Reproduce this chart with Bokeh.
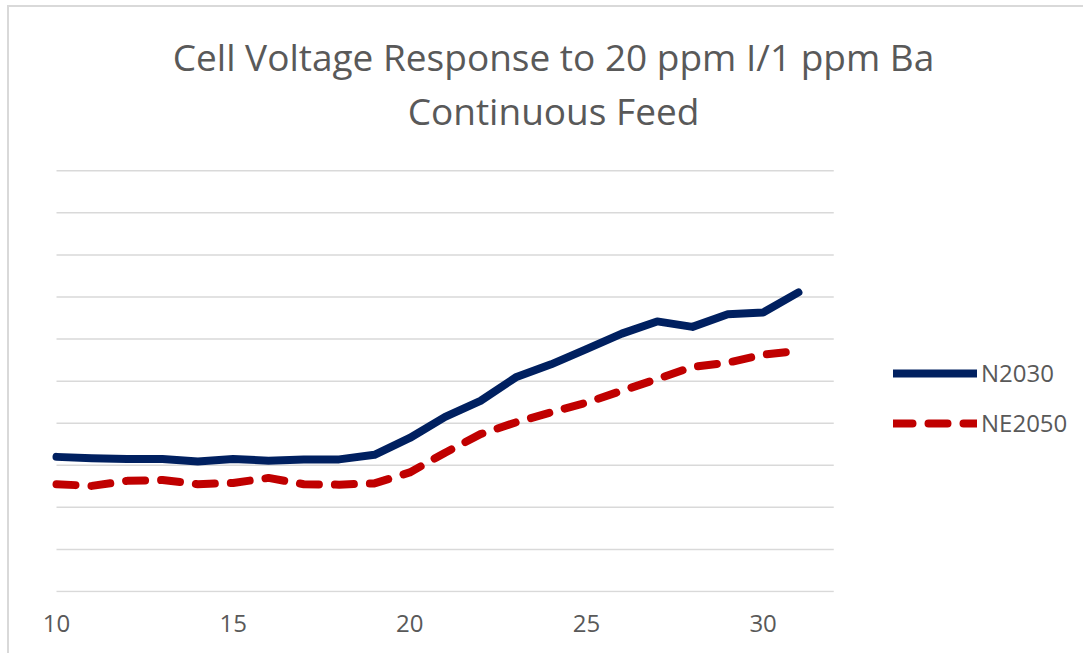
from bokeh.plotting import figure
from bokeh.models import FixedTicker, Legend, LegendItem, Label, Range1d
from bokeh.embed import file_html
from bokeh.resources import INLINE

# ---- data (y in gridline units) ----
hours = [10, 11, 12, 13, 14, 15, 16, 17, 18, 19, 20,
         21, 22, 23, 24, 25, 26, 27, 28, 29, 30, 31]
n2030 = [3.20, 3.17, 3.15, 3.15, 3.09, 3.15, 3.11, 3.14, 3.14, 3.25, 3.65,
         4.15, 4.53, 5.09, 5.40, 5.76, 6.13, 6.42, 6.29, 6.59, 6.63, 7.11]
ne2050 = [2.55, 2.51, 2.63, 2.65, 2.55, 2.58, 2.70, 2.55, 2.54, 2.57, 2.83,
          3.30, 3.74, 4.02, 4.26, 4.49, 4.77, 5.05, 5.34, 5.44, 5.63, 5.72]
x_ticks = [10, 15, 20, 25, 30]
grid_levels = [0, 1, 2, 3, 4, 5, 6, 7, 8, 9, 10]
plot_area_x = [10, 32]          # extent of the plot area on the x scale
title_lines = ["Cell Voltage Response to 20 ppm I/1 ppm Ba", "Continuous Feed"]
series_names = ["N2030", "NE2050"]

FONT = "Open Sans"
GREY = "#595959"
BLUE = "#002060"
RED = "#C00000"

W, H = 1076, 648
PX_X = 35.33     # pixels per x unit
PX_Y = 42.07     # pixels per gridline
X0_PX = 47       # canvas x of x=10
Y0_PX = 584      # canvas y of y=0
BOTTOM = 63

frame_h = H - BOTTOM
x_start = plot_area_x[0] - X0_PX / PX_X
x_end = plot_area_x[0] + (W - X0_PX) / PX_X
y_start = -(frame_h - Y0_PX) / PX_Y
y_end = y_start + frame_h / PX_Y

p = figure(width=W, height=H, output_backend="svg", toolbar_location=None,
           x_range=Range1d(x_start, x_end), y_range=Range1d(y_start, y_end),
           y_axis_location=None, title=None,
           min_border_left=0, min_border_right=0, min_border_top=0,
           min_border_bottom=BOTTOM)
p.styles = {"border-left": "2px solid #d9d9d9", "border-top": "2px solid #d9d9d9",
            "margin-left": "7px", "margin-top": "5px"}
p.outline_line_color = None
p.background_fill_color = "white"
p.border_fill_color = "white"
p.xgrid.visible = False
p.ygrid.visible = False

# horizontal gridlines limited to the plot area
p.segment(x0=[plot_area_x[0]] * len(grid_levels), x1=[plot_area_x[1]] * len(grid_levels),
          y0=grid_levels, y1=grid_levels, line_color="#d9d9d9", line_width=1.5)

xa = p.xaxis[0]
xa.ticker = FixedTicker(ticks=x_ticks)
xa.axis_line_color = None
xa.major_tick_line_color = None
xa.minor_tick_line_color = None
xa.major_label_text_font = FONT
xa.major_label_text_font_size = "24px"
xa.major_label_text_color = GREY
xa.major_label_standoff = 16

r1 = p.line(hours, n2030, line_color=BLUE, line_width=8,
            line_join="round", line_cap="round")
r2 = p.line(hours, ne2050, line_color=RED, line_width=8,
            line_join="round", line_cap="round", line_dash="19 16")

legend = Legend(items=[LegendItem(label=series_names[0], renderers=[r1]),
                       LegendItem(label=series_names[1], renderers=[r2])],
                location=(884, 153), orientation="vertical",
                padding=0, margin=0, spacing=17,
                glyph_width=84, glyph_height=20, label_height=20,
                label_standoff=4,
                label_text_font=FONT, label_text_font_size="24px",
                label_text_color=GREY,
                border_line_color=None, background_fill_alpha=0)
p.add_layout(legend, "center")

for txt, yy in zip(title_lines, [536, 482]):
    p.add_layout(Label(x=544, y=yy, x_units="screen", y_units="screen",
                       text=txt, text_align="center", text_baseline="alphabetic",
                       text_font=FONT, text_font_size="37px", text_color=GREY))

open("out.html", "w").write(file_html(p, INLINE))
